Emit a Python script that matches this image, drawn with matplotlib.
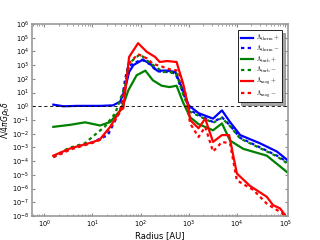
import matplotlib
matplotlib.use("Agg")
import matplotlib.pyplot as plt
from matplotlib.font_manager import FontProperties
import numpy as np

# radius [AU] and log10(Lambda / 4 pi G rho0 delta)
r_therm_p = [1.55, 2.5, 5, 15, 27, 38, 48, 58, 71, 112, 158, 220, 355, 530, 760, 1000, 1600,
             3200, 4900, 7200, 11700, 30200, 67600, 110000]
l_therm_p = [0.12, 0.0, 0.03, 0.03, 0.07, 0.35, 1.3, 2.5, 3.0, 3.4, 3.1, 2.6, 2.6, 2.5, 1.17, 0.07,
             -0.5, -0.9, -0.3, -1.15, -2.1, -2.7, -3.3, -3.9]

r_therm_m = [1.55, 3.5, 10.5, 21, 38, 48, 55, 78, 107, 158, 220, 355, 530, 760, 1070, 3200, 4900,
             7200, 11700, 30200, 67600, 110000]
l_therm_m = [-3.7, -3.1, -2.6, -2.1, -0.3, 2.0, 2.9, 3.2, 3.4, 3.05, 2.55, 2.5, 2.4, 1.0, -0.3,
             -1.15, -0.8, -1.4, -2.3, -3.0, -3.6, -4.05]

r_turb_p = [1.55, 3.5, 7.1, 14.5, 23.4, 38, 48, 56, 83, 126, 180, 275, 400, 560, 760, 1070, 1600,
            3200, 4900, 7200, 13500, 41700, 110000]
l_turb_p = [-1.5, -1.35, -1.17, -1.4, -1.15, -0.3, 0.5, 1.17, 2.26, 2.6, 1.9, 1.5, 1.4, 1.5, 0.3,
            -0.8, -1.3, -1.75, -1.25, -2.5, -3.1, -3.6, -4.8]

r_turb_m = [1.55, 3.2, 7, 13, 18, 30, 48, 56, 98, 135, 200, 295, 400, 560, 760, 1070, 3200, 4900,
            7200, 11700, 30200, 67600, 110000]
l_turb_m = [-3.7, -3.05, -2.7, -1.9, -1.5, -0.5, 1.5, 3.1, 3.8, 3.36, 2.9, 2.5, 2.5, 2.4, 0.9,
            -0.4, -1.2, -0.85, -1.45, -2.35, -3.05, -3.65, -4.15]

r_mag_p = [1.55, 3.5, 10.5, 14.5, 23.4, 38, 44, 58, 89, 135, 200, 250, 355, 560, 760, 980, 1070,
           1600, 2200, 3200, 4900, 6900, 10000, 18600, 41700, 56000, 79000, 100000]
l_mag_p = [-3.6, -3.07, -2.6, -2.4, -1.5, -0.3, -0.15, 3.6, 4.6, 3.97, 3.6, 3.23, 3.3, 3.23, 1.7,
           -0.05, -1.0, -1.6, -0.9, -2.6, -2.1, -2.1, -4.9, -5.8, -6.6, -7.2, -7.45, -7.95]

r_mag_m = [1.55, 2.5, 3.5, 10.5, 14.5, 23.4, 38, 60, 89, 135, 180, 275, 400, 600, 830, 1070, 1600,
           2200, 3200, 4900, 7200, 10000, 21900, 41700, 87000, 105000]
l_mag_m = [-3.7, -3.4, -3.15, -2.65, -2.45, -1.6, -0.4, 3.2, 3.8, 3.5, 3.1, 2.9, 2.7, 2.6, 1.2,
           -1.25, -2.24, -1.5, -3.3, -2.6, -2.7, -5.4, -6.1, -7.1, -7.8, -8.2]

series = [
    (r_therm_p, l_therm_p, "b", "-", r"$\Lambda_{\rm therm}+$"),
    (r_therm_m, l_therm_m, "b", "dash", r"$\Lambda_{\rm therm}-$"),
    (r_turb_p, l_turb_p, "g", "-", r"$\Lambda_{\rm turb}+$"),
    (r_turb_m, l_turb_m, "g", "dash", r"$\Lambda_{\rm turb}-$"),
    (r_mag_p, l_mag_p, "r", "-", r"$\Lambda_{\rm mag}+$"),
    (r_mag_m, l_mag_m, "r", "dash", r"$\Lambda_{\rm mag}-$"),
]

fig = plt.figure(figsize=(3.2, 2.4), dpi=100)
ax = fig.add_axes([0.1, 0.1, 0.8, 0.8])

for r, l, c, ls, lab in series:
    y = 10.0 ** np.array(l)
    if ls == "dash":
        ax.plot(r, y, color=c, lw=1.6, linestyle=(0, (1.5, 1.5)), label=lab)
    else:
        ax.plot(r, y, color=c, lw=1.6, label=lab)

ax.axhline(1.0, color="k", lw=0.6, linestyle=(0, (4, 3)))

ax.set_xscale("log")
ax.set_yscale("log")
ax.set_xlim(0.56, 1.15e5)
ax.set_ylim(1e-8, 1e6)
ax.set_yticks([10.0 ** k for k in range(-8, 7)])
ax.tick_params(which="both", direction="in", top=True, right=True, labelsize=4.8, colors="#888888",
               labelcolor="black", length=2.5, pad=2)
ax.tick_params(which="minor", length=1.5)
for s in ax.spines.values():
    s.set_color("#999999")
    s.set_linewidth(1.2)

ax.set_xlabel("Radius [AU]", fontsize=6, labelpad=0.5)
ax.set_ylabel(r"$\Lambda/4\pi G\rho_0\delta$", fontsize=5.5, labelpad=0)

leg = ax.legend(loc="upper right", prop=FontProperties(size=4.5, math_fontfamily="cm"),
                shadow=True, fancybox=False, handlelength=1.9, handletextpad=0.4,
                borderpad=0.45, labelspacing=0.12, edgecolor="black", framealpha=1,
                bbox_to_anchor=(0.99, 0.985))
leg.get_frame().set_linewidth(0.6)

fig.savefig("out.png", dpi=100)
